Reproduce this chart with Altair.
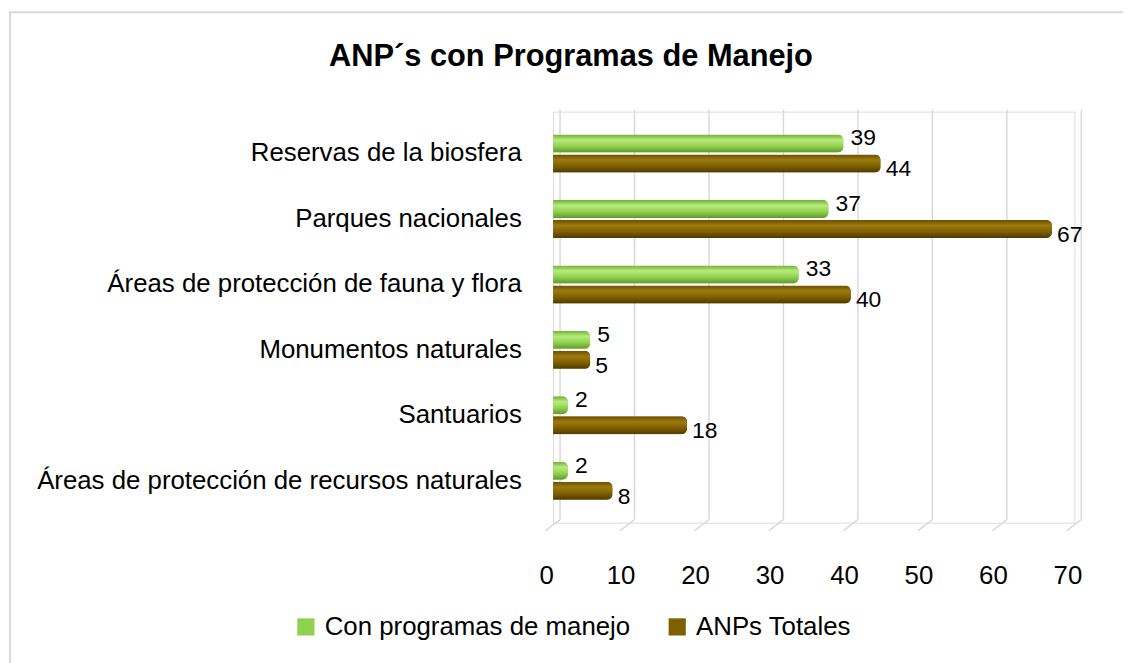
import altair as alt
import pandas as pd

categories = [
    "Reservas de la biosfera",
    "Parques nacionales",
    "Áreas de protección de fauna y flora",
    "Monumentos naturales",
    "Santuarios",
    "Áreas de protección de recursos naturales",
]
con_programas = [39, 37, 33, 5, 2, 2]
totales = [44, 67, 40, 5, 18, 8]
series_names = ["Con programas de manejo", "ANPs Totales"]
ticks = [0, 10, 20, 30, 40, 50, 60, 70]
title_text = ["ANP´s con Programas de Manejo"]

FONT = "Liberation Sans"

rows = []
for c, g, t in zip(categories, con_programas, totales):
    rows.append({"cat": c, "serie": series_names[0], "valor": g})
    rows.append({"cat": c, "serie": series_names[1], "valor": t})
df = pd.DataFrame(rows)
grid_df = pd.DataFrame({"t": ticks})
title_df = pd.DataFrame({"txt": title_text})

W, H = 525, 414
PL, PT = 549, 102

xscale = alt.Scale(domain=[0, 70], nice=False)
yscale = alt.Scale(domain=categories, paddingInner=0.42, paddingOuter=0.35)
yoff = alt.YOffset("serie:N", sort=series_names, scale=alt.Scale(paddingInner=0.1))
color = alt.Color(
    "serie:N",
    sort=series_names,
    scale=alt.Scale(domain=series_names, range=["#92D050", "#7F6000"]),
    legend=alt.Legend(
        title=None, orient="none", legendX=-262, legendY=H + 92, direction="horizontal",
        symbolType="square", symbolSize=300, symbolStrokeWidth=0, labelFont=FONT,
        labelFontSize=26, labelColor="#000000", columnPadding=34, labelOffset=6,
        labelLimit=400,
    ),
)

base = alt.Chart(df).encode(
    y=alt.Y("cat:N", sort=categories, scale=yscale,
            axis=alt.Axis(title=None, domain=False, ticks=False, labelFont=FONT,
                          labelFontSize=26, labelColor="#000000", labelPadding=32,
                          labelLimit=700)),
    yOffset=yoff,
)

grid = alt.Chart(grid_df).mark_rule(color="#D9D9D9", strokeWidth=1.5, xOffset=7).encode(
    x=alt.X("t:Q", scale=xscale,
            axis=alt.Axis(values=ticks, title=None, domain=False, ticks=False, grid=False,
                          labelFont=FONT, labelFontSize=26, labelColor="#000000",
                          labelPadding=40, labelOffset=-7, labelFlush=False)),
    y=alt.value(-2),
    y2=alt.value(H - 3),
)

diag = alt.Chart(grid_df).transform_calculate(
    a="datum.t - 1", b="datum.t + 0.93"
).mark_rule(color="#D9D9D9", strokeWidth=1.5).encode(
    x=alt.X("a:Q", scale=xscale),
    x2="b:Q",
    y=alt.value(H + 8),
    y2=alt.value(H - 3),
)

green_grad = alt.Gradient(
    gradient="linear", x1=0, y1=0, x2=0, y2=1,
    stops=[alt.GradientStop(color="#6FAE32", offset=0),
           alt.GradientStop(color="#B8EC7E", offset=0.3),
           alt.GradientStop(color="#92D050", offset=0.65),
           alt.GradientStop(color="#5E9A2A", offset=1)],
)
brown_grad = alt.Gradient(
    gradient="linear", x1=0, y1=0, x2=0, y2=1,
    stops=[alt.GradientStop(color="#6A5000", offset=0),
           alt.GradientStop(color="#9C7A10", offset=0.3),
           alt.GradientStop(color="#7F6000", offset=0.65),
           alt.GradientStop(color="#4E3A00", offset=1)],
)

bars = base.mark_bar(cornerRadiusEnd=6).encode(
    x=alt.X("valor:Q", scale=xscale), color=color
)
bars_g = base.transform_filter(alt.datum.serie == series_names[0]).mark_bar(
    cornerRadiusEnd=6, fill=green_grad
).encode(x=alt.X("valor:Q", scale=xscale))
bars_b = base.transform_filter(alt.datum.serie == series_names[1]).mark_bar(
    cornerRadiusEnd=6, fill=brown_grad
).encode(x=alt.X("valor:Q", scale=xscale))

labels_g = base.transform_filter(alt.datum.serie == series_names[0]).mark_text(
    align="left", baseline="middle", dx=7, dy=-5, font=FONT, fontSize=23, color="#000000"
).encode(x=alt.X("valor:Q", scale=xscale), text="valor:Q")
labels_b = base.transform_filter(alt.datum.serie == series_names[1]).mark_text(
    align="left", baseline="middle", dx=5, dy=6, font=FONT, fontSize=23, color="#000000"
).encode(x=alt.X("valor:Q", scale=xscale), text="valor:Q")

title = alt.Chart(title_df).mark_text(
    font=FONT, fontSize=31, fontWeight="bold", color="#000000", align="center", baseline="middle"
).encode(x=alt.value(18), y=alt.value(-55), text="txt:N")

frame = alt.Chart(title_df).mark_rect(fill=None, stroke="#D9D9D9", strokeWidth=2).encode(
    x=alt.value(-PL + 2), x2=alt.value(W + 54), y=alt.value(-PT + 2), y2=alt.value(H + 160)
)

chart = alt.layer(grid, diag, bars, bars_g, bars_b, labels_g, labels_b, title, frame).properties(
    width=W, height=H,
    autosize=alt.AutoSizeParams(type="none"),
    padding={"left": PL, "top": PT, "right": 49, "bottom": 140},
).configure_view(stroke=None).configure(background="#FFFFFF")

chart.save("out.html", embed_options={"renderer": "svg", "actions": False})
